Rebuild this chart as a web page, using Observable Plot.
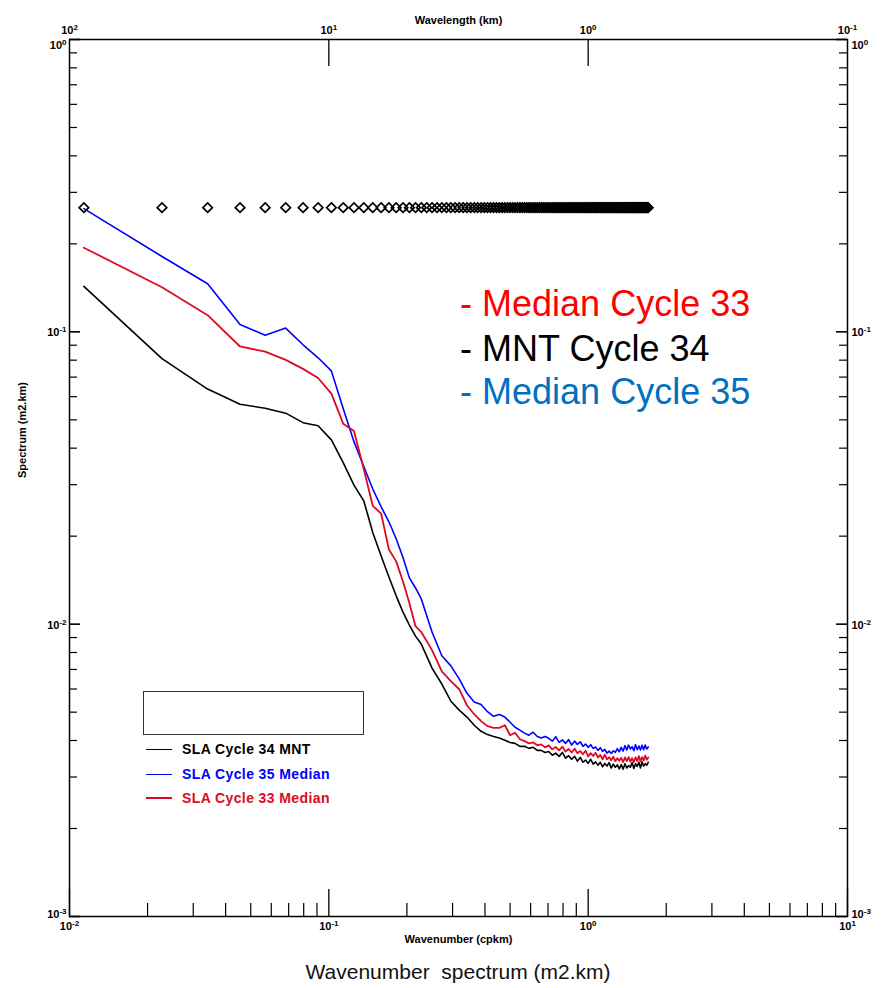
<!DOCTYPE html>
<html>
<head>
<meta charset="utf-8">
<script src="https://cdn.jsdelivr.net/npm/d3@7"></script>
<script src="https://cdn.jsdelivr.net/npm/@observablehq/plot@0.6"></script>
<style>
  body { margin: 0; background: white; }
  #wrap { position: relative; width: 887px; height: 988px; font-family: "Liberation Sans", Arial, sans-serif; }
  #caption { position: absolute; left: 458px; top: 960px; transform: translateX(-50%); font-size: 21px; color: #111; white-space: pre; line-height: 24px; }
  .lg-box { position: absolute; left: 143px; top: 691px; width: 219px; height: 42px; border: 1.3px solid #333; }
  .lg-row { position: absolute; left: 146px; height: 18px; display: flex; align-items: center; font-size: 14px; font-weight: bold; letter-spacing: 0.4px; white-space: nowrap; }
  .lg-row span.ln { display: inline-block; width: 26px; margin-right: 10px; }
</style>
</head>
<body>
<div id="wrap"></div>
<script>
// ---- data ----
// sampled wavenumbers (cpkm) used by the three spectra
const wavenumber = [
  0.01136, 0.02273, 0.03409, 0.04545, 0.05682, 0.06818, 0.07955, 0.09091, 0.1023, 0.1136,
  0.1250, 0.1364, 0.1477, 0.1591, 0.1705, 0.1818, 0.1932, 0.2045, 0.2159, 0.2273,
  0.2500, 0.2727, 0.2955, 0.3182, 0.3409, 0.3636, 0.3864, 0.4091, 0.4318, 0.4545,
  0.4773, 0.5000, 0.5227, 0.5455, 0.5682, 0.5909, 0.6136, 0.6364, 0.6591, 0.6818,
  0.7045, 0.7273, 0.7500, 0.7727, 0.7955, 0.8182, 0.8409, 0.8636, 0.8864, 0.9091,
  0.9318, 0.9545, 0.9773, 1.0000, 1.0227, 1.0455, 1.0682, 1.0909, 1.1136, 1.1364,
  1.1591, 1.1818, 1.2045, 1.2273, 1.2500, 1.2727, 1.2955, 1.3182, 1.3409, 1.3636,
  1.3864, 1.4091, 1.4318, 1.4545, 1.4773, 1.5000, 1.5227, 1.5455, 1.5682, 1.5909,
  1.6136, 1.6364, 1.6591, 1.6818, 1.7045
];
const sla34MNT = [
  0.143, 0.0810, 0.0637, 0.0565, 0.0548, 0.0527, 0.0489, 0.0477, 0.0427, 0.0357,
  0.0299, 0.0264, 0.0206, 0.0171, 0.0145, 0.0125, 0.0110, 0.00993, 0.0091, 0.00855,
  0.00707, 0.00624, 0.00545, 0.00508, 0.00481, 0.00451, 0.00430, 0.00419, 0.00413, 0.00408,
  0.00401, 0.00394, 0.00391, 0.00382, 0.00382, 0.00376, 0.00379, 0.00370, 0.00370, 0.00364,
  0.00367, 0.00356, 0.00362, 0.00353, 0.00364, 0.00348, 0.00355, 0.00345, 0.00353, 0.00340,
  0.00350, 0.00337, 0.00343, 0.00334, 0.00345, 0.00332, 0.00338, 0.00329, 0.00337, 0.00325,
  0.00334, 0.00327, 0.00336, 0.00322, 0.00332, 0.00324, 0.00330, 0.00320, 0.00331, 0.00319,
  0.00333, 0.00322, 0.00328, 0.00324, 0.00336, 0.00321, 0.00333, 0.00326, 0.00337, 0.00322,
  0.00338, 0.00327, 0.00333, 0.00329, 0.00337
];
const sla35Median = [
  0.264, 0.181, 0.146, 0.106, 0.0974, 0.103, 0.0903, 0.0815, 0.0735, 0.0547,
  0.0421, 0.0346, 0.0290, 0.0252, 0.0224, 0.0196, 0.0169, 0.0144, 0.0133, 0.0122,
  0.0094, 0.0078, 0.0072, 0.0065, 0.0058, 0.00542, 0.00531, 0.00502, 0.00484, 0.00491,
  0.00481, 0.00462, 0.00444, 0.00434, 0.00424, 0.00417, 0.00427, 0.00413, 0.00408, 0.00413,
  0.00407, 0.00398, 0.00412, 0.00394, 0.00402, 0.00391, 0.00403, 0.00386, 0.00398, 0.00388,
  0.00396, 0.00382, 0.00389, 0.00379, 0.00387, 0.00376, 0.00380, 0.00370, 0.00378, 0.00367,
  0.00373, 0.00362, 0.00368, 0.00361, 0.00369, 0.00364, 0.00375, 0.00366, 0.00379, 0.00368,
  0.00384, 0.00371, 0.00386, 0.00374, 0.00381, 0.00369, 0.00387, 0.00372, 0.00383, 0.00371,
  0.00385, 0.00372, 0.00386, 0.00374, 0.00380
];
const sla33Median = [
  0.194, 0.142, 0.114, 0.0891, 0.0856, 0.0802, 0.0747, 0.0695, 0.0615, 0.0485,
  0.0458, 0.0339, 0.0254, 0.0239, 0.0180, 0.0164, 0.0140, 0.0118, 0.00984, 0.0094,
  0.00815, 0.0069, 0.00638, 0.00599, 0.00528, 0.00492, 0.00466, 0.00448, 0.00442, 0.00442,
  0.00451, 0.00417, 0.00425, 0.00404, 0.00398, 0.00391, 0.00394, 0.00385, 0.00388, 0.00379,
  0.00385, 0.00373, 0.00380, 0.00370, 0.00381, 0.00367, 0.00374, 0.00364, 0.00375, 0.00362,
  0.00368, 0.00359, 0.00369, 0.00353, 0.00362, 0.00354, 0.00363, 0.00350, 0.00357, 0.00345,
  0.00358, 0.00345, 0.00351, 0.00342, 0.00352, 0.00340, 0.00348, 0.00341, 0.00349, 0.00337,
  0.00350, 0.00340, 0.00351, 0.00339, 0.00348, 0.00337, 0.00350, 0.00340, 0.00354, 0.00339,
  0.00351, 0.00342, 0.00355, 0.00344, 0.00350
];
// all spectral wavenumbers, shown as diamond markers
const gridWavenumber = [
  0.01136, 0.02273, 0.03409, 0.04545, 0.05682, 0.06818, 0.07955, 0.09091, 0.1023, 0.1136,
  0.1250, 0.1364, 0.1477, 0.1591, 0.1705, 0.1818, 0.1932, 0.2045, 0.2159, 0.2273,
  0.2386, 0.2500, 0.2614, 0.2727, 0.2841, 0.2955, 0.3068, 0.3182, 0.3295, 0.3409,
  0.3523, 0.3636, 0.3750, 0.3864, 0.3977, 0.4091, 0.4205, 0.4318, 0.4432, 0.4545,
  0.4659, 0.4773, 0.4886, 0.5000, 0.5114, 0.5227, 0.5341, 0.5455, 0.5568, 0.5682,
  0.5795, 0.5909, 0.6023, 0.6136, 0.6250, 0.6364, 0.6477, 0.6591, 0.6705, 0.6818,
  0.6932, 0.7045, 0.7159, 0.7273, 0.7386, 0.7500, 0.7614, 0.7727, 0.7841, 0.7955,
  0.8068, 0.8182, 0.8295, 0.8409, 0.8523, 0.8636, 0.8750, 0.8864, 0.8977, 0.9091,
  0.9205, 0.9318, 0.9432, 0.9545, 0.9659, 0.9773, 0.9886, 1.0000, 1.0114, 1.0227,
  1.0341, 1.0455, 1.0568, 1.0682, 1.0795, 1.0909, 1.1023, 1.1136, 1.1250, 1.1364,
  1.1477, 1.1591, 1.1705, 1.1818, 1.1932, 1.2045, 1.2159, 1.2273, 1.2386, 1.2500,
  1.2614, 1.2727, 1.2841, 1.2955, 1.3068, 1.3182, 1.3295, 1.3409, 1.3523, 1.3636,
  1.3750, 1.3864, 1.3977, 1.4091, 1.4205, 1.4318, 1.4432, 1.4545, 1.4659, 1.4773,
  1.4886, 1.5000, 1.5114, 1.5227, 1.5341, 1.5455, 1.5568, 1.5682, 1.5795, 1.5909,
  1.6023, 1.6136, 1.6250, 1.6364, 1.6477, 1.6591, 1.6705, 1.6818, 1.6932, 1.7045
];
const markerLevel = 0.266;

// axis ticks and labels (base 10, exponent)
const xMajor = [0.01, 0.1, 1, 10];
const xMajorExp = ["-2", "-1", "0", "1"];
const wavelengthExp = ["2", "1", "0", "-1"];
const wavelengthTicks = [0.1, 1];
const xMinor = [0.02, 0.03, 0.04, 0.05, 0.06, 0.07, 0.08, 0.09,
                0.2, 0.3, 0.4, 0.5, 0.6, 0.7, 0.8, 0.9,
                2, 3, 4, 5, 6, 7, 8, 9];
const yMajor = [0.001, 0.01, 0.1, 1];
const yMajorExp = ["-3", "-2", "-1", "0"];
const yMinor = [0.002, 0.003, 0.004, 0.005, 0.006, 0.007, 0.008, 0.009,
                0.02, 0.03, 0.04, 0.05, 0.06, 0.07, 0.08, 0.09,
                0.2, 0.3, 0.4, 0.5, 0.6, 0.7, 0.8, 0.9];

// in-plot annotation (anchored in data coordinates)
const annoText = ["- Median Cycle 33", "- MNT Cycle 34", "- Median Cycle 35"];
const annoColor = ["#ff0000", "#000000", "#0070c0"];
const annoWavenumber = [0.3207, 0.3207, 0.3207];
const annoLevel = [0.1242, 0.0871, 0.0621];

// legend
const legendNames = ["SLA Cycle 34 MNT", "SLA Cycle 35 Median", "SLA Cycle 33 Median"];
const legendColors = ["#000000", "#0000ff", "#dd0a22"];

// ---- build ----
const W = 887, H = 950, mL = 69, mR = 40, mT = 39, mB = 34;
const plotW = W - mL - mR, plotH = H - mT - mB;

const toRows = vals => wavenumber.map((w, i) => ({w, v: vals[i]}));
const black = toRows(sla34MNT), blue = toRows(sla35Median), red = toRows(sla33Median);

const pow = e => "10^" + e;
const lab = {fontSize: 11, fontWeight: "bold"};
// y labels at the frame corners sit just inside the frame
const yLabelDy = (d, i) => (i === 0 ? -2 : i === yMajor.length - 1 ? 6 : 1);

const marks = [
  // ticks
  Plot.tickX(xMinor, {x: d => d, insetTop: plotH - 13, stroke: "#000", strokeWidth: 1.2}),
  Plot.tickX(xMajor, {x: d => d, insetTop: plotH - 27, stroke: "#000", strokeWidth: 1.3}),
  Plot.tickX(wavelengthTicks, {x: d => d, insetBottom: plotH - 27, stroke: "#000", strokeWidth: 1.3}),
  Plot.tickY(yMinor, {y: d => d, insetRight: plotW - 8, stroke: "#000", strokeWidth: 1.2}),
  Plot.tickY(yMajor, {y: d => d, insetRight: plotW - 11, stroke: "#000", strokeWidth: 1.6}),
  Plot.tickY(yMinor, {y: d => d, insetLeft: plotW - 8, stroke: "#000", strokeWidth: 1.2}),
  Plot.tickY(yMajor, {y: d => d, insetLeft: plotW - 11, stroke: "#000", strokeWidth: 1.6}),
  Plot.frame({stroke: "#000", strokeWidth: 1.5}),
  // tick labels
  ...yMajor.map((v, i) => Plot.text([v], {y: d => d, text: () => pow(yMajorExp[i]), frameAnchor: "left", textAnchor: "end", dx: -3, dy: yLabelDy(v, i), ...lab})),
  ...yMajor.map((v, i) => Plot.text([v], {y: d => d, text: () => pow(yMajorExp[i]), frameAnchor: "right", textAnchor: "start", dx: 4, dy: yLabelDy(v, i), ...lab})),
  Plot.text(xMajor, {x: d => d, text: (d, i) => pow(xMajorExp[i]), frameAnchor: "bottom", dy: 13, ...lab}),
  Plot.text(xMajor, {x: d => d, text: (d, i) => pow(wavelengthExp[i]), frameAnchor: "top", dy: -13, ...lab}),
  // axis titles
  Plot.text(["Wavelength (km)"], {text: d => d, frameAnchor: "top", dy: -23, fontSize: 11, fontWeight: "bold"}),
  Plot.text(["Wavenumber (cpkm)"], {text: d => d, frameAnchor: "bottom", dy: 26, fontSize: 11, fontWeight: "bold"}),
  Plot.text(["Spectrum (m2.km)"], {text: d => d, frameAnchor: "left", dx: -47, rotate: -90, fontSize: 11, fontWeight: "bold"}),
  // spectra
  Plot.line(black, {x: "w", y: "v", stroke: "#000000", strokeWidth: 1.6}),
  Plot.line(blue, {x: "w", y: "v", stroke: "#0000ff", strokeWidth: 1.6}),
  Plot.line(red, {x: "w", y: "v", stroke: "#dd0a22", strokeWidth: 1.8}),
  // wavenumber grid markers
  Plot.dot(gridWavenumber, {x: d => d, y: () => markerLevel, symbol: "diamond2", r: 4.3, stroke: "#000", strokeWidth: 1.7, fill: "none"})
];
annoText.forEach((t, i) => {
  marks.push(Plot.text([t], {x: () => annoWavenumber[i], y: () => annoLevel[i], text: d => d, textAnchor: "start", fill: annoColor[i], fontSize: 36}));
});

const chart = Plot.plot({
  width: W, height: H,
  marginLeft: mL, marginRight: mR, marginTop: mT, marginBottom: mB,
  x: {type: "log", domain: [0.01, 10], axis: null},
  y: {type: "log", domain: [0.001, 1], axis: null},
  style: {fontFamily: "'Liberation Sans', Arial, sans-serif", background: "white", overflow: "visible", color: "#000"},
  marks
});

// render "10^e" labels with a raised exponent
d3.select(chart).selectAll("text").each(function () {
  const m = /^10\^(-?\d)$/.exec(this.textContent);
  if (!m) return;
  const t = d3.select(this);
  t.text("10");
  t.append("tspan").attr("dy", "-0.5em").attr("font-size", 8).text(m[1]);
});

const wrap = document.getElementById("wrap");
wrap.appendChild(chart);

// legend overlay (inside plot area, as in the original)
const box = document.createElement("div");
box.className = "lg-box";
wrap.appendChild(box);
const rowTops = [740, 765, 789];
legendNames.forEach((name, i) => {
  const row = document.createElement("div");
  row.className = "lg-row";
  row.style.top = rowTops[i] + "px";
  row.style.color = legendColors[i];
  const ln = document.createElement("span");
  ln.className = "ln";
  ln.style.borderTop = (i === 2 ? 2 : 1.3) + "px solid " + legendColors[i];
  row.appendChild(ln);
  const tx = document.createElement("span");
  tx.textContent = name;
  row.appendChild(tx);
  wrap.appendChild(row);
});

const cap = document.createElement("div");
cap.id = "caption";
cap.textContent = "Wavenumber  spectrum (m2.km)";
wrap.appendChild(cap);
</script>
</body>
</html>
